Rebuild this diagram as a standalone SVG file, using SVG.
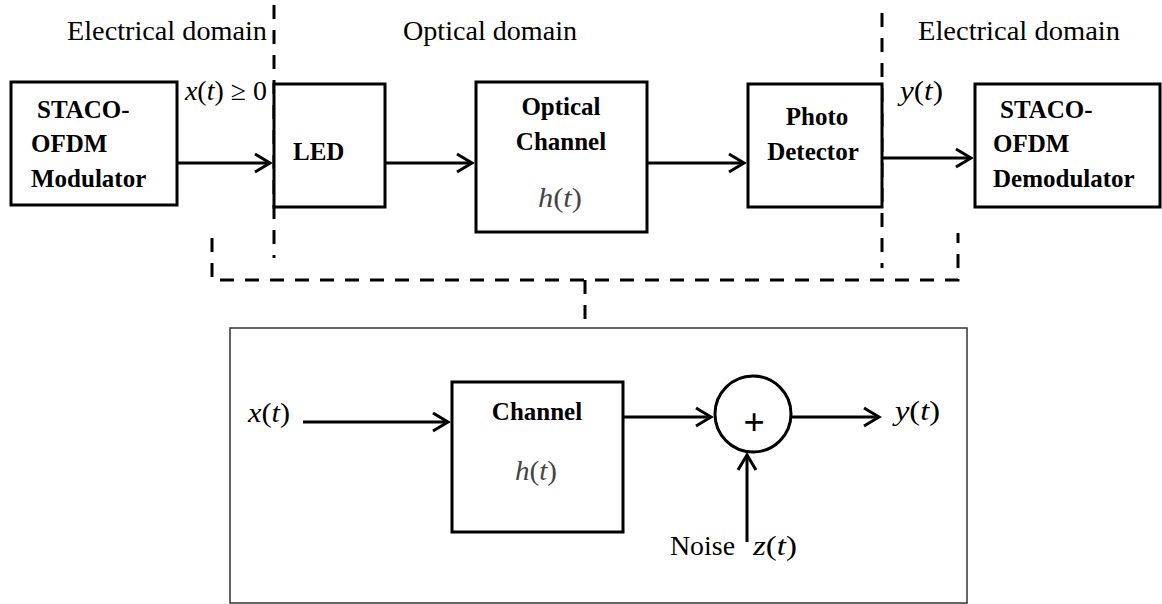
<svg xmlns="http://www.w3.org/2000/svg" width="1162" height="604" viewBox="0 0 1162 604">
<style>
.box{fill:#fff;stroke:#000;stroke-width:3}
.outer{fill:none;stroke:#333;stroke-width:1.5}
.wire{fill:none;stroke:#000;stroke-width:3}
.dash{fill:none;stroke:#000;stroke-width:3;stroke-dasharray:14 11}
.lbl{font-family:"Liberation Serif","Times New Roman",serif;font-size:27px;fill:#000}
.b{font-family:"Liberation Serif","Times New Roman",serif;font-size:25px;font-weight:bold;fill:#000}
.m{font-family:"Liberation Serif","Times New Roman",serif;font-size:27px;fill:#000}
.g{fill:#444}
.i{font-style:italic}
</style>
<defs>
<marker id="arr" markerUnits="userSpaceOnUse" markerWidth="24" markerHeight="24" viewBox="-20 -12 24 24" refX="0" refY="0" orient="auto" overflow="visible">
<path d="M-15,-9 L0,0 L-15,9" fill="none" stroke="#000" stroke-width="3"/>
</marker>
</defs>

<g id="domain-labels">
<text class="lbl" x="67" y="40" textLength="200" lengthAdjust="spacingAndGlyphs">Electrical domain</text>
<text class="lbl" x="403" y="40" textLength="174" lengthAdjust="spacingAndGlyphs">Optical domain</text>
<text class="lbl" x="918" y="40" textLength="202" lengthAdjust="spacingAndGlyphs">Electrical domain</text>
</g>

<g id="dashed-boundaries">
<path class="dash" d="M274,5 V258"/>
<path class="dash" d="M882,13 V268"/>
<path class="dash" d="M212,238 V280 H958 V233"/>
<path class="dash" d="M585,280 V328"/>
</g>

<g id="modulator">
<rect class="box" x="11" y="82" width="166" height="123"/>
<text class="b" x="37" y="118">STACO-</text>
<text class="b" x="31" y="152">OFDM</text>
<text class="b" x="31" y="187">Modulator</text>
</g>

<g id="led">
<rect class="box" x="274" y="84" width="111" height="123"/>
<text class="b" x="293" y="160">LED</text>
</g>

<g id="optical-channel">
<rect class="box" x="476" y="82" width="171" height="150"/>
<text class="b" x="561" y="115" text-anchor="middle">Optical</text>
<text class="b" x="561" y="150" text-anchor="middle">Channel</text>
<text class="m g" x="538" y="207" textLength="44" lengthAdjust="spacingAndGlyphs"><tspan class="i">h</tspan>(<tspan class="i">t</tspan>)</text>
</g>

<g id="photo-detector">
<rect class="box" x="748" y="84" width="134" height="123"/>
<text class="b" x="817" y="125" text-anchor="middle">Photo</text>
<text class="b" x="813" y="160" text-anchor="middle">Detector</text>
</g>

<g id="demodulator">
<rect class="box" x="975" y="84" width="185" height="123"/>
<text class="b" x="1000" y="118">STACO-</text>
<text class="b" x="993" y="152">OFDM</text>
<text class="b" x="993" y="187">Demodulator</text>
</g>

<g id="signal-labels">
<text class="m" x="185" y="100" textLength="82" lengthAdjust="spacingAndGlyphs"><tspan class="i">x</tspan>(<tspan class="i">t</tspan>) ≥ 0</text>
<text class="m" x="900" y="100" textLength="43" lengthAdjust="spacingAndGlyphs"><tspan class="i">y</tspan>(<tspan class="i">t</tspan>)</text>
</g>

<g id="channel-model">
<rect class="outer" x="230" y="328" width="737" height="275"/>
<text class="m" x="248" y="422" textLength="42" lengthAdjust="spacingAndGlyphs"><tspan class="i">x</tspan>(<tspan class="i">t</tspan>)</text>
<text class="m" x="895" y="420" textLength="45" lengthAdjust="spacingAndGlyphs"><tspan class="i">y</tspan>(<tspan class="i">t</tspan>)</text>
<text class="lbl" x="670" y="555" textLength="65" lengthAdjust="spacingAndGlyphs">Noise</text>
<text class="m" x="753" y="555" textLength="44" lengthAdjust="spacingAndGlyphs"><tspan class="i">z</tspan>(<tspan class="i">t</tspan>)</text>
</g>

<g id="channel">
<rect class="box" x="452" y="382" width="171" height="150"/>
<text class="b" x="537" y="420" text-anchor="middle">Channel</text>
<text class="m g" x="515" y="480" textLength="42" lengthAdjust="spacingAndGlyphs"><tspan class="i">h</tspan>(<tspan class="i">t</tspan>)</text>
</g>

<g id="adder">
<circle cx="753" cy="414" r="38" fill="#fff" stroke="#000" stroke-width="3"/>
<text class="b" x="754" y="435" text-anchor="middle" style="font-size:38px">+</text>
</g>

<g id="connectors">
<path class="wire" d="M177,163 H270" marker-end="url(#arr)"/>
<path class="wire" d="M385,163 H472" marker-end="url(#arr)"/>
<path class="wire" d="M647,163 H744" marker-end="url(#arr)"/>
<path class="wire" d="M882,158 H971" marker-end="url(#arr)"/>
<path class="wire" d="M303,422 H448" marker-end="url(#arr)"/>
<path class="wire" d="M623,417 H711" marker-end="url(#arr)"/>
<path class="wire" d="M791,417 H879" marker-end="url(#arr)"/>
<path class="wire" d="M747,542 V455" marker-end="url(#arr)"/>
</g>
</svg>
